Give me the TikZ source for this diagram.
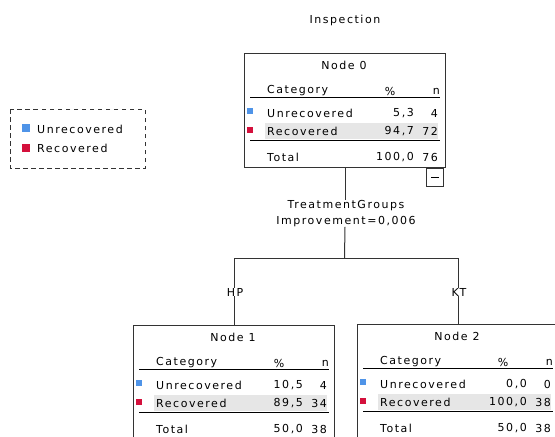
\documentclass[tikz,border=0pt]{standalone}
\usepackage{fontspec}
\setmainfont[LetterSpace=14]{DejaVu Sans}
\definecolor{ublue}{HTML}{4F94E8}
\definecolor{rred}{HTML}{D4103C}
\definecolor{rowgray}{HTML}{E6E6E6}
\definecolor{boxline}{HTML}{333333}
\tikzset{
  txt/.style={inner sep=0pt, font=\fontsize{11}{12}\selectfont},
  nodebox/.style={draw=boxline, line width=1pt, fill=white, minimum width=201pt, minimum height=114pt, inner sep=0pt, anchor=north west},
  conn/.style={draw=boxline, line width=1pt},
  rule/.style={draw=black, line width=1.1pt},
  swatch/.style={inner sep=0pt, minimum size=6pt},
}
\newcommand{\treenode}[9]{%
  % #1 number, #2 left, #3 top, #4 u%, #5 un, #6 r%, #7 rn, #8 total %, #9 total n
  \node[nodebox] (n#1) at (#2,#3) {};
  \fill[rowgray] (#2+21,#3+70) rectangle (#2+194,#3+86);
  \node[txt] (n#1-title) at (#2+100,#3+12.5) {Node #1};
  \node[txt, anchor=west] (n#1-cat) at (#2+23,#3+38) {Category};
  \node[txt] (n#1-pcth) at (#2+146,#3+38) {\%};
  \node[txt, anchor=east] (n#1-nh) at (#2+196,#3+38) {n};
  \draw[rule] (#2+6,#3+44.5) -- (#2+196,#3+44.5);
  \node[swatch, fill=ublue] (n#1-us) at (#2+6,#3+58) {};
  \node[txt, anchor=west] (n#1-u) at (#2+23,#3+60) {Unrecovered};
  \node[txt, anchor=east] (n#1-up) at (#2+170,#3+60) {#4};
  \node[txt, anchor=east] (n#1-un) at (#2+194,#3+60) {#5};
  \node[swatch, fill=rred] (n#1-rs) at (#2+6,#3+77) {};
  \node[txt, anchor=west] (n#1-r) at (#2+23,#3+78.5) {Recovered};
  \node[txt, anchor=east] (n#1-rp) at (#2+170,#3+78.5) {#6};
  \node[txt, anchor=east] (n#1-rn) at (#2+194,#3+78.5) {#7};
  \draw[rule] (#2+6,#3+87.5) -- (#2+196,#3+87.5);
  \node[txt, anchor=west] (n#1-t) at (#2+23,#3+104) {Total};
  \node[txt, anchor=east] (n#1-tp) at (#2+170,#3+104) {#8};
  \node[txt, anchor=east] (n#1-tn) at (#2+194,#3+104) {#9};
}
\begin{document}
\begin{tikzpicture}[x=1pt,y=-1pt]
\useasboundingbox (0,0) rectangle (555,437);
\clip (0,0) rectangle (555,437);
\node[txt] (title) at (345,20) {Inspection};
% legend
\draw[dash pattern=on 4.5pt off 3.5pt, line width=1pt, boxline] (10,109) rectangle (145,168);
\node[inner sep=0pt, minimum size=8pt, fill=ublue] (lgu) at (26,127.5) {};
\node[txt, anchor=west] (lgut) at (37,129) {Unrecovered};
\node[inner sep=0pt, minimum size=8pt, fill=rred] (lgr) at (26,147.5) {};
\node[txt, anchor=west] (lgrt) at (37,148) {Recovered};
% tree nodes
\treenode{0}{244}{53}{5,3}{4}{94,7}{72}{100,0}{76}
\treenode{1}{133}{325}{10,5}{4}{89,5}{34}{50,0}{38}
\treenode{2}{357}{324}{0,0}{0}{100,0}{38}{50,0}{38}
% toggle
\node[draw=boxline, line width=1pt, minimum width=17pt, minimum height=18pt, inner sep=0pt, anchor=north west] (tog) at (426,168) {};
\draw[line width=1pt] ([xshift=-4pt]tog.center) -- ([xshift=4pt]tog.center);
% split
\node[txt, align=center] (crit) at (346,213.5) {TreatmentGroups\\[4pt]Improvement=0,006};
\coordinate (split) at (344.5,258);
\node[txt] (hp) at (235,292) {HP};
\node[txt] (kt) at (459,292) {KT};
\draw[conn] (n0.south) -- (n0.south |- crit.north);
\draw[conn] (n0.south |- crit.south) -- (split);
\draw[conn] (split) -| (n1.north |- hp.north);
\draw[conn] (split) -| (n2.north |- kt.north);
\draw[conn] (n1.north |- hp.south) -- (n1.north);
\draw[conn] (n2.north |- kt.south) -- (n2.north);
\end{tikzpicture}
\end{document}
